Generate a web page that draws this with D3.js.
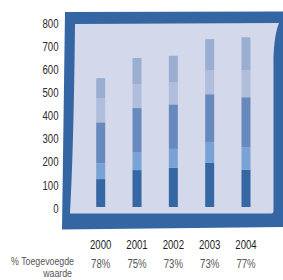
<!DOCTYPE html>
<html>
<head>
<meta charset="utf-8">
<script src="https://cdn.jsdelivr.net/npm/d3@7"></script>
<style>
  html, body { margin: 0; padding: 0; background: #fff; }
  svg { display: block; }
  text { font-family: "Liberation Sans", Arial, sans-serif; }
</style>
</head>
<body>
<script>
// data
var years = ['2000', '2001', '2002', '2003', '2004']
var shares = ['78%', '75%', '73%', '73%', '77%']
var seriesKeys = ['s1', 's2', 's3', 's4', 's5']
var s1 = [121, 160, 170, 191, 162]
var s2 = [68, 78, 82, 91, 97]
var s3 = [178, 191, 193, 207, 217]
var s4 = [104, 103, 97, 105, 117]
var s5 = [88, 114, 114, 134, 143]
var yTicks = [0, 100, 200, 300, 400, 500, 600, 700, 800]
var rowLabel = ['% Toegevoegde', 'waarde']

var colors = {
  s1: '#3467a4',
  s2: '#79a2d6',
  s3: '#6889bd',
  s4: '#b0bedc',
  s5: '#9aaed2',
  frame: '#3366a3',
  panel: '#d3d9ea'
}

var width = 283, height = 280
var fontSize = 13

var table = years.map(function (y, i) {
  return { year: y, s1: s1[i], s2: s2[i], s3: s3[i], s4: s4[i], s5: s5[i] }
})

var svg = d3.select('body').append('svg')
  .attr('width', width)
  .attr('height', height)

var x = d3.scalePoint().domain(years).range([100.7, 246])
var y = d3.scaleLinear().domain([0, 800]).range([207, 22.5])
var barW = 9

// condensed look: squeeze text horizontally
function place (px, py, k) {
  return 'translate(' + px + ',' + py + ') scale(' + (k || 0.74) + ',1)'
}

// blue frame + curled light panel
svg.append('path')
  .attr('d', 'M65,12 L283,11.5 L283,227 L62,229.5 Z')
  .attr('fill', colors.frame)

svg.append('path')
  .attr('d', 'M75,24 L279,23 C276,30 274,42 273.5,58 L273.5,211 Q273.5,213.5 271,213.5 L70,213.5 C72,180 74,120 75,24 Z')
  .attr('fill', colors.panel)

// stacked bars
var stack = d3.stack().keys(seriesKeys)(table)

svg.append('g')
  .selectAll('g')
  .data(stack)
  .enter().append('g')
  .attr('fill', function (d) { return colors[d.key] })
  .selectAll('rect')
  .data(function (d) { return d })
  .enter().append('rect')
  .attr('x', function (d) { return x(d.data.year) - barW / 2 })
  .attr('width', barW)
  .attr('y', function (d) { return y(d[1]) })
  .attr('height', function (d) { return y(d[0]) - y(d[1]) })

// y axis labels
svg.append('g')
  .selectAll('text')
  .data(yTicks)
  .enter().append('text')
  .attr('transform', function (d) { return place(58.5, y(d) + 1) })
  .attr('dy', '0.35em')
  .attr('text-anchor', 'end')
  .attr('font-size', fontSize)
  .attr('fill', '#2b2b2b')
  .text(function (d) { return d })

// year labels
svg.append('g')
  .selectAll('text')
  .data(years)
  .enter().append('text')
  .attr('transform', function (d) { return place(x(d), 244) })
  .attr('dy', '0.35em')
  .attr('text-anchor', 'middle')
  .attr('font-size', fontSize)
  .attr('fill', '#1e1e1e')
  .text(function (d) { return d })

// share row
svg.append('g')
  .selectAll('text')
  .data(shares)
  .enter().append('text')
  .attr('transform', function (d, i) { return place(x(years[i]), 263) })
  .attr('dy', '0.35em')
  .attr('text-anchor', 'middle')
  .attr('font-size', fontSize)
  .attr('fill', '#555')
  .text(function (d) { return d })

svg.append('g')
  .selectAll('text')
  .data(rowLabel)
  .enter().append('text')
  .attr('transform', function (d, i) { return place(i === 0 ? 74 : 72, 261 + i * 12.6, 0.8) })
  .attr('dy', '0.35em')
  .attr('text-anchor', 'end')
  .attr('font-size', 11)
  .attr('fill', '#555')
  .text(function (d) { return d })
</script>
</body>
</html>
